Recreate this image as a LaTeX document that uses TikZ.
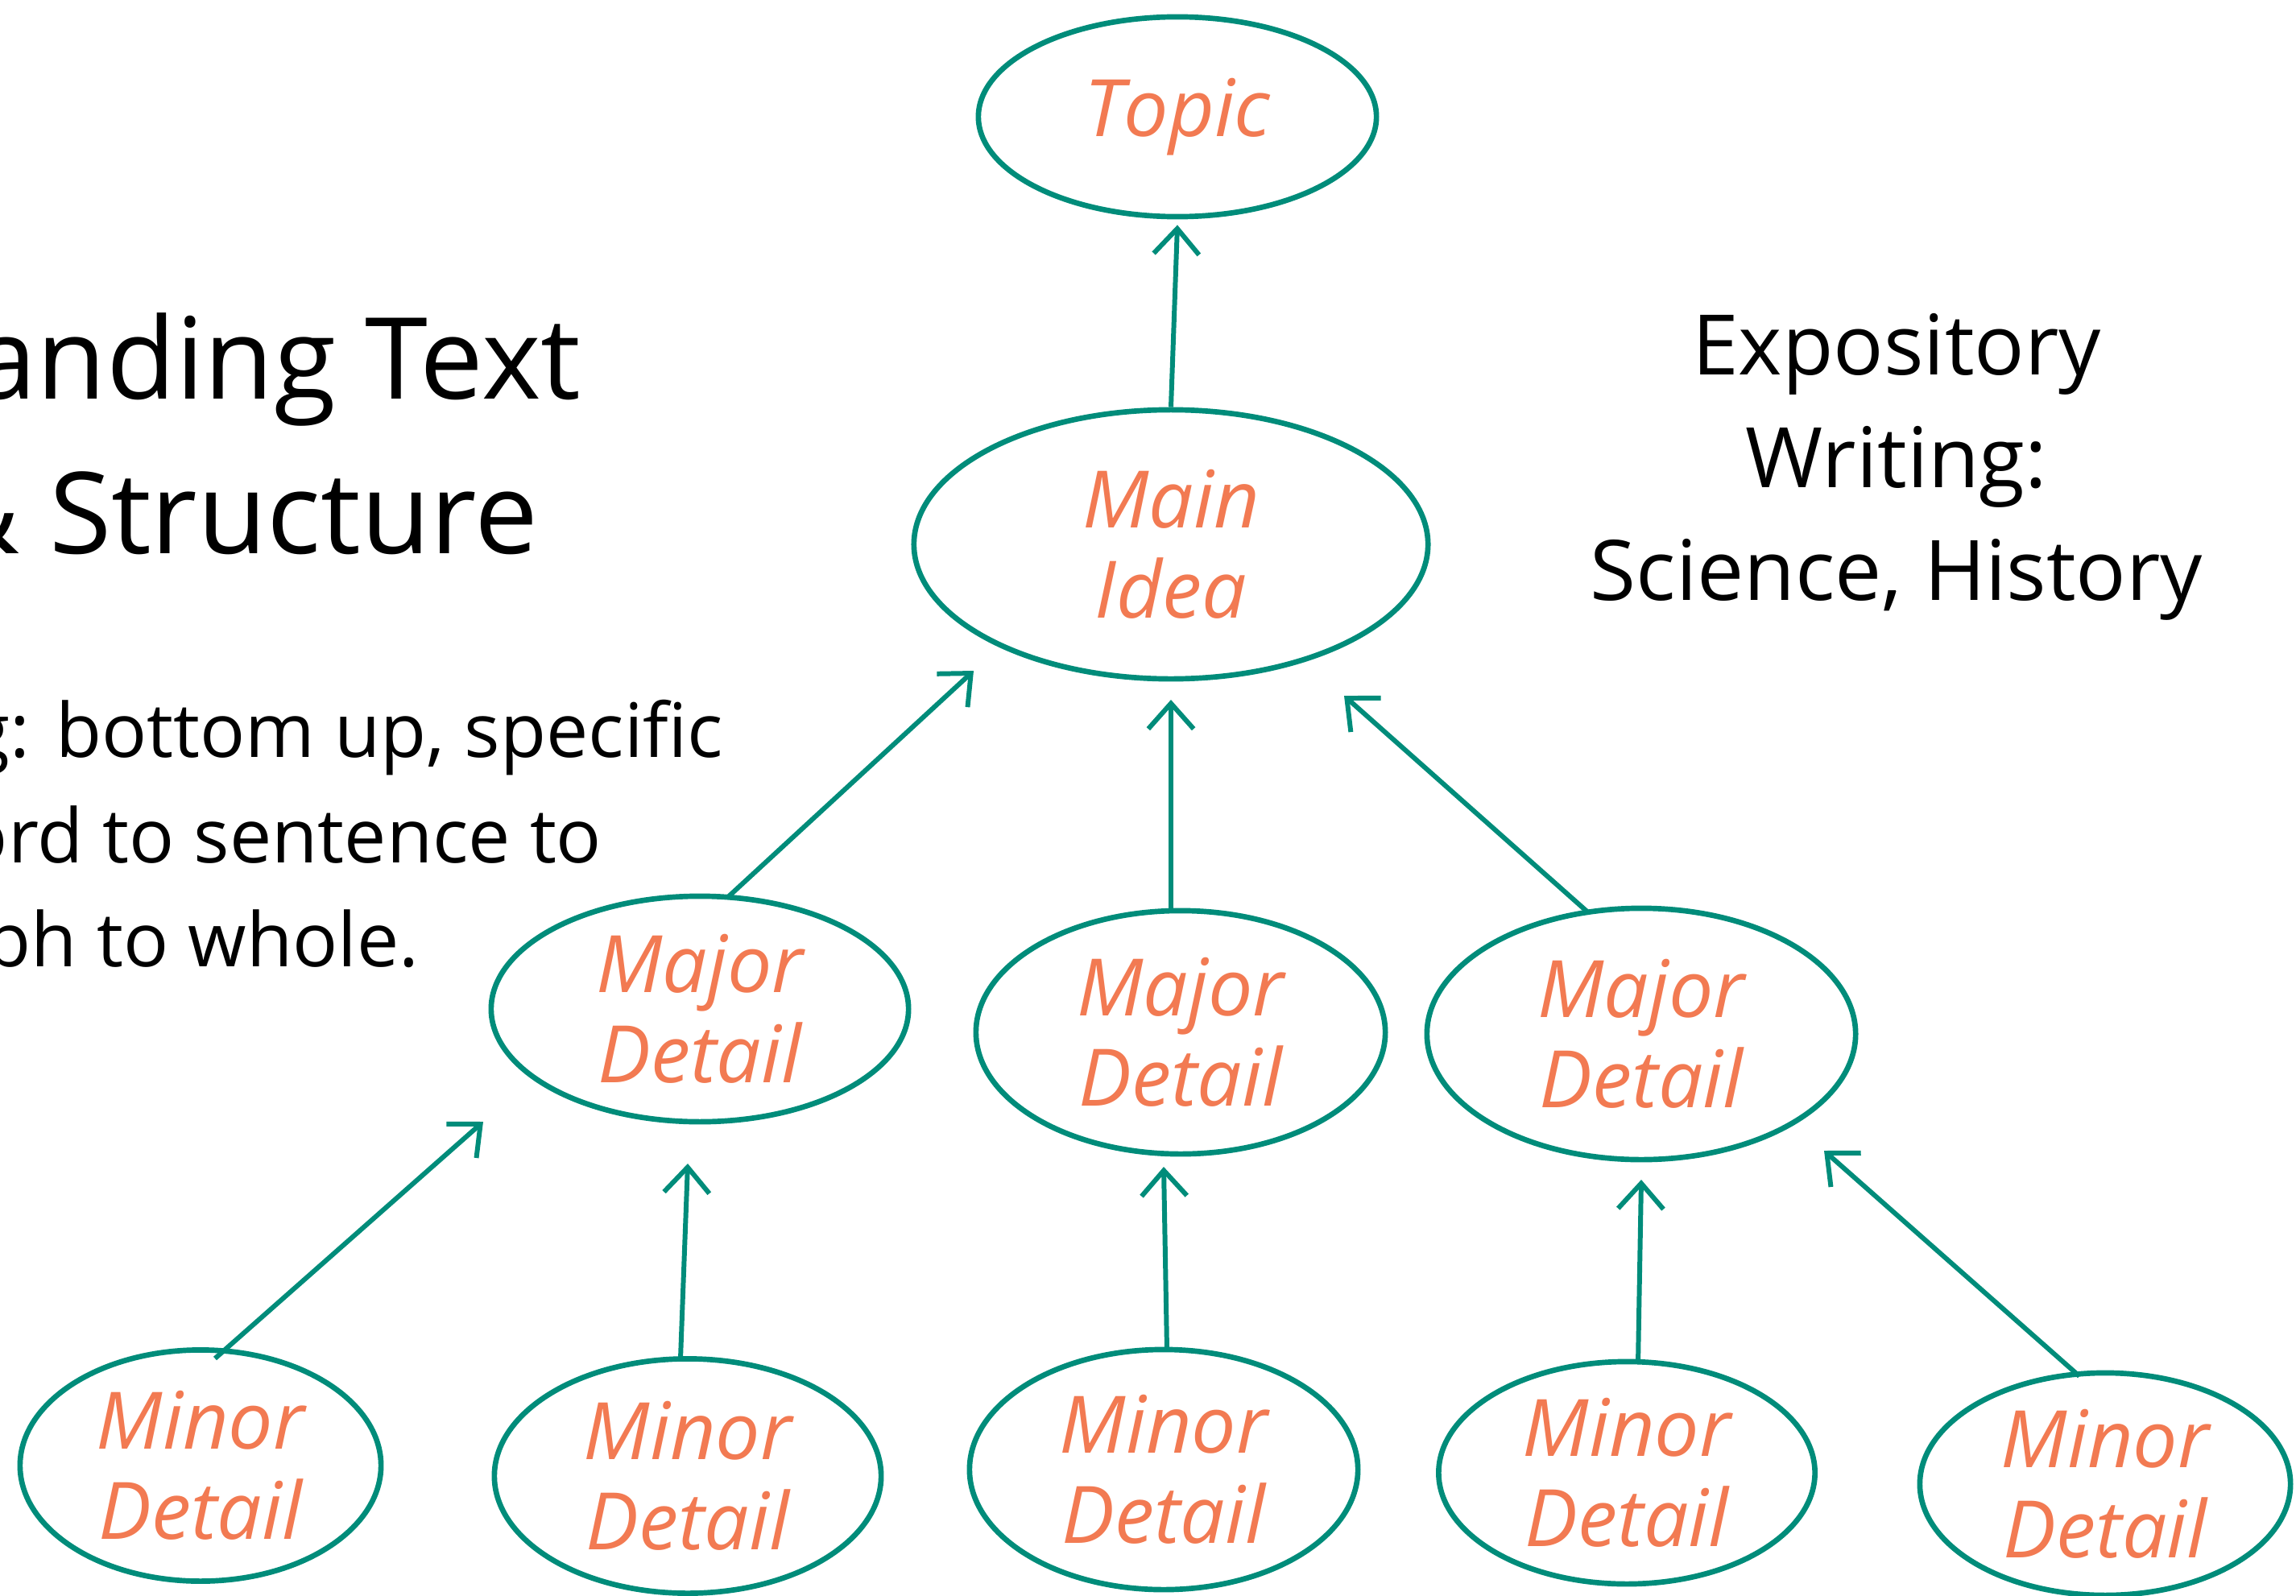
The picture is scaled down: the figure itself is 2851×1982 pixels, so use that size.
\documentclass[tikz,border=0pt]{standalone}
\usepackage{fontspec}
\setmainfont{Open Sans}
\usetikzlibrary{arrows.meta,shapes.geometric}
\definecolor{tealc}{RGB}{0,140,122}
\definecolor{orangec}{RGB}{242,122,82}
\begin{document}
\begin{tikzpicture}[x=0.01cm,y=-0.01cm,
 bubble/.style={ellipse, draw=tealc, line width=1.9pt, inner sep=-0.5cm, text=orangec, align=center, font=\itshape\fontsize{28pt}{32pt}\selectfont},
 link/.style={draw=tealc, line width=1.7pt, -{Straight Barb[length=9pt,width=16pt]}},
 title/.style={anchor=base east, inner sep=0pt, font=\fontsize{40pt}{48pt}\selectfont},
 body/.style={anchor=base east, inner sep=0pt, font=\fontsize{26.5pt}{32pt}\selectfont},
 expo/.style={anchor=base, inner sep=0pt, font=\fontsize{29.5pt}{36pt}\selectfont}]
\useasboundingbox (0,0) rectangle (2851,1982);

\node[bubble, minimum width=4.94cm, minimum height=2.48cm] (topic) at (1462,145) {Topic};
\node[bubble, minimum width=6.38cm, minimum height=3.34cm] (main) at (1454,676) {Main\\Idea};
\node[bubble, minimum width=5.18cm, minimum height=2.80cm] (maj1) at (869,1253) {Major\\Detail};
\node[bubble, minimum width=5.08cm, minimum height=3.02cm] (maj2) at (1466,1282) {Major\\Detail};
\node[bubble, minimum width=5.32cm, minimum height=3.12cm] (maj3) at (2038,1284) {Major\\Detail};
\node[bubble, minimum width=4.48cm, minimum height=2.87cm] (min1) at (249,1820) {Minor\\Detail};
\node[bubble, minimum width=4.80cm, minimum height=2.91cm] (min2) at (854,1833) {Minor\\Detail};
\node[bubble, minimum width=4.82cm, minimum height=2.98cm] (min3) at (1445,1825) {Minor\\Detail};
\node[bubble, minimum width=4.67cm, minimum height=2.76cm] (min4) at (2020,1829) {Minor\\Detail};
\node[bubble, minimum width=4.60cm, minimum height=2.76cm] (min5) at (2614,1843) {Minor\\Detail};

\draw[link] (main.north) -- ([shift={(0,7)}]topic.south);
\draw[link] ([shift={(36,-140)}]maj1.center) -- ([shift={(-245,157)}]main.center);
\draw[link] ([shift={(-12,-150)}]maj2.center) -- ([shift={(0,193)}]main.center);
\draw[link] ([shift={(-65,-150)}]maj3.center) -- ([shift={(215,188)}]main.center);
\draw[link] ([shift={(18,-133)}]min1.center) -- ([shift={(-269,140)}]maj1.center);
\draw[link] ([shift={(-9,-146)}]min2.center) -- ([shift={(-15,192)}]maj1.center);
\draw[link] ([shift={(4,-149)}]min3.center) -- ([shift={(-21,167)}]maj2.center);
\draw[link] ([shift={(14,-135)}]min4.center) -- ([shift={(0,181)}]maj3.center);
\draw[link] ([shift={(-32,-134)}]min5.center) -- ([shift={(227,145)}]maj3.center);

\node[title] (t1) at (722,495) {anding Text};
\node[title] (t2) at (669,687) {\& Structure};
\node[body] (b1) at (899,940) {g: bottom up, specific};
\node[body] (b2) at (748,1071) {ord to sentence to};
\node[body] (b3) at (521,1200) {ph to whole.};
\node[expo] (e1) at (2355,465) {Expository};
\node[expo] (e2) at (2355,605) {Writing:};
\node[expo] (e3) at (2355,745) {Science, History};
\end{tikzpicture}
\end{document}
